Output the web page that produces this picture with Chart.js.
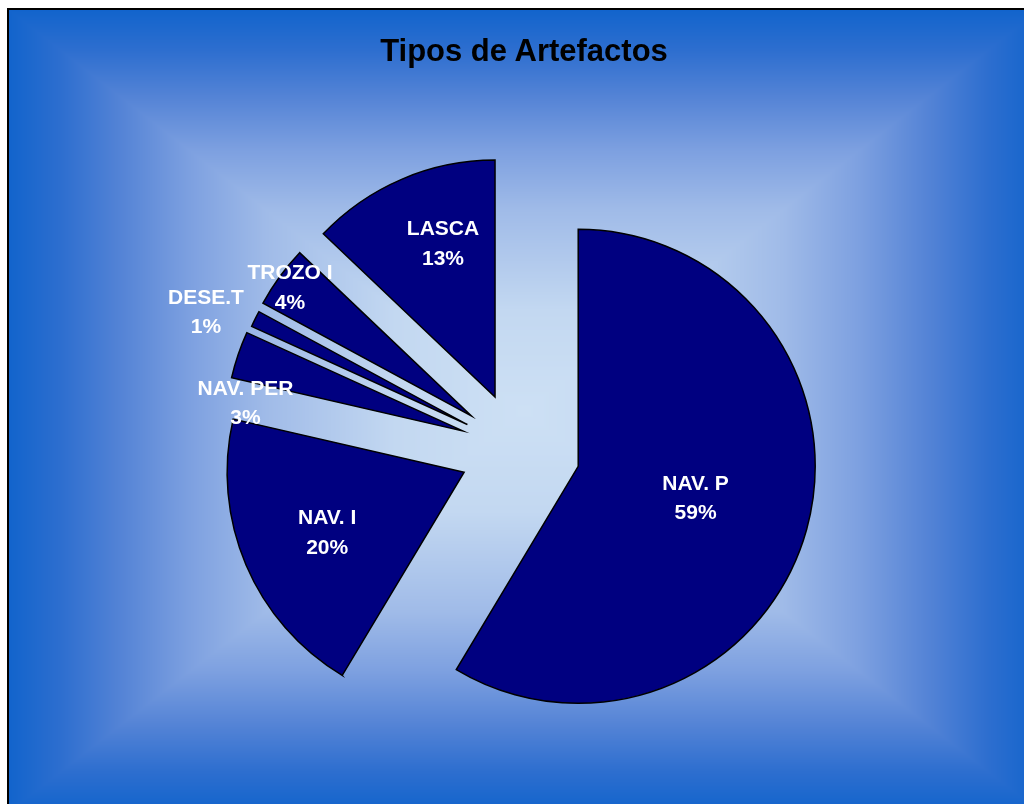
<!DOCTYPE html>
<html>
<head>
<meta charset="utf-8">
<script src="https://cdn.jsdelivr.net/npm/chart.js@4.4.1/dist/chart.umd.min.js"></script>
<style>
  html, body { margin: 0; padding: 0; background: #fff; overflow: hidden; }
  #wrap { position: relative; width: 1024px; height: 804px; }
  #chart { position: absolute; left: 0; top: 0; }
  #title {
    position: absolute; left: 0; top: 35px; width: 1048px;
    text-align: center; color: #000;
    font: bold 31px "Liberation Sans", Arial, sans-serif; line-height: 31px;
  }
</style>
</head>
<body>
<div id="wrap">
  <canvas id="chart" width="1024" height="804"></canvas>
  <div id="title">Tipos de Artefactos</div>
</div>
<script>
const labels = ["NAV. P", "NAV. I", "NAV. PER", "DESE.T", "TROZO I", "LASCA"];
// shares in % (labels show them rounded)
const percents = [58.6, 20.0, 3.2, 1.1, 4.2, 12.9];

// styling: how far each slice is pulled out, and where its label sits
const explode = [63, 58, 58, 56, 57, 57];
const labelFrac = [0.512, 0.63, 0.924, 1.203, 0.94, 0.689];
const labelTurn = [-0.72, -0.46, -11.2, -2.94, -0.5, 4.65];

const gradStops = [
  [0, [205, 224, 244]],
  [0.25, [195, 216, 241]],
  [0.5, [160, 187, 232]],
  [0.65, [125, 160, 224]],
  [0.78, [85, 132, 214]],
  [0.9, [45, 110, 207]],
  [1, [18, 100, 204]]
];

function gradColor(t) {
  for (let i = 1; i < gradStops.length; i++) {
    const [t1, c1] = gradStops[i];
    const [t0, c0] = gradStops[i - 1];
    if (t <= t1) {
      const f = (t - t0) / (t1 - t0);
      return c0.map((v, k) => v + (c1[k] - v) * f);
    }
  }
  return gradStops[gradStops.length - 1][1];
}

// rectangular "from centre" gradient like the office chart area
let bgImage = null;
function buildBackdrop(w, h) {
  const L = 9, T = 10, R = 1040, B = 812;
  const cx = (L + R) / 2, cy = (T + B) / 2;
  const hw = (R - L) / 2, hh = (B - T) / 2;
  const img = new ImageData(w, h);
  const d = img.data;
  for (let y = 0; y < h; y++) {
    for (let x = 0; x < w; x++) {
      const p = (y * w + x) * 4;
      let c = [255, 255, 255];
      if (x >= L && y >= T) {
        const t = Math.min(1, Math.max(Math.abs(x + 0.5 - cx) / hw, Math.abs(y + 0.5 - cy) / hh));
        c = gradColor(t);
      }
      d[p] = c[0]; d[p + 1] = c[1]; d[p + 2] = c[2]; d[p + 3] = 255;
    }
  }
  return img;
}

const backdrop = {
  id: "backdrop",
  beforeDraw(chart) {
    const ctx = chart.ctx;
    if (!bgImage) bgImage = buildBackdrop(chart.width, chart.height);
    ctx.putImageData(bgImage, 0, 0);
    ctx.save();
    ctx.fillStyle = "#000";
    ctx.fillRect(7, 8, 2, chart.height);
    ctx.fillRect(7, 8, chart.width, 2);
    ctx.restore();
  }
};

// pull the slices out from the centre along their middle angle
const explodeSlices = {
  id: "explodeSlices",
  afterDatasetsUpdate(chart) {
    const arcs = chart.getDatasetMeta(0).data;
    arcs.forEach((arc, i) => {
      const mid = (arc.startAngle + arc.endAngle) / 2;
      arc.x += Math.cos(mid) * explode[i];
      arc.y += Math.sin(mid) * explode[i];
    });
  }
};

const sliceLabels = {
  id: "sliceLabels",
  afterDatasetsDraw(chart) {
    const ctx = chart.ctx;
    const arcs = chart.getDatasetMeta(0).data;
    ctx.save();
    ctx.fillStyle = "#fff";
    ctx.font = "bold 21px 'Liberation Sans', Arial, sans-serif";
    ctx.textAlign = "center";
    ctx.textBaseline = "alphabetic";
    arcs.forEach((arc, i) => {
      const a = (arc.startAngle + arc.endAngle) / 2 + labelTurn[i] * Math.PI / 180;
      const r = labelFrac[i] * arc.outerRadius;
      const x = arc.x + Math.cos(a) * r;
      const y = arc.y + Math.sin(a) * r;
      ctx.fillText(labels[i], x, y - 14.75 + 7.5);
      ctx.fillText(Math.round(percents[i]) + "%", x, y + 14.75 + 7.5);
    });
    ctx.restore();
  }
};

let chart;

function initChart() {
  const ctx = document.getElementById("chart");
  chart = new Chart(ctx, {
    type: "pie",
    data: {
      labels: labels,
      datasets: [{
        data: percents,
        backgroundColor: "#000080",
        borderColor: "#000",
        borderWidth: 1.5,
        borderJoinStyle: "miter"
      }]
    },
    options: {
      responsive: false,
      animation: false,
      events: [],
      radius: 237,
      layout: { padding: { left: 11, right: 0, top: 95, bottom: 0 } },
      plugins: {
        legend: { display: false },
        tooltip: { enabled: false },
        title: { display: false }
      }
    },
    plugins: [backdrop, explodeSlices, sliceLabels]
  });
}

window.onload = () => {
  initChart();
};
</script>
</body>
</html>
